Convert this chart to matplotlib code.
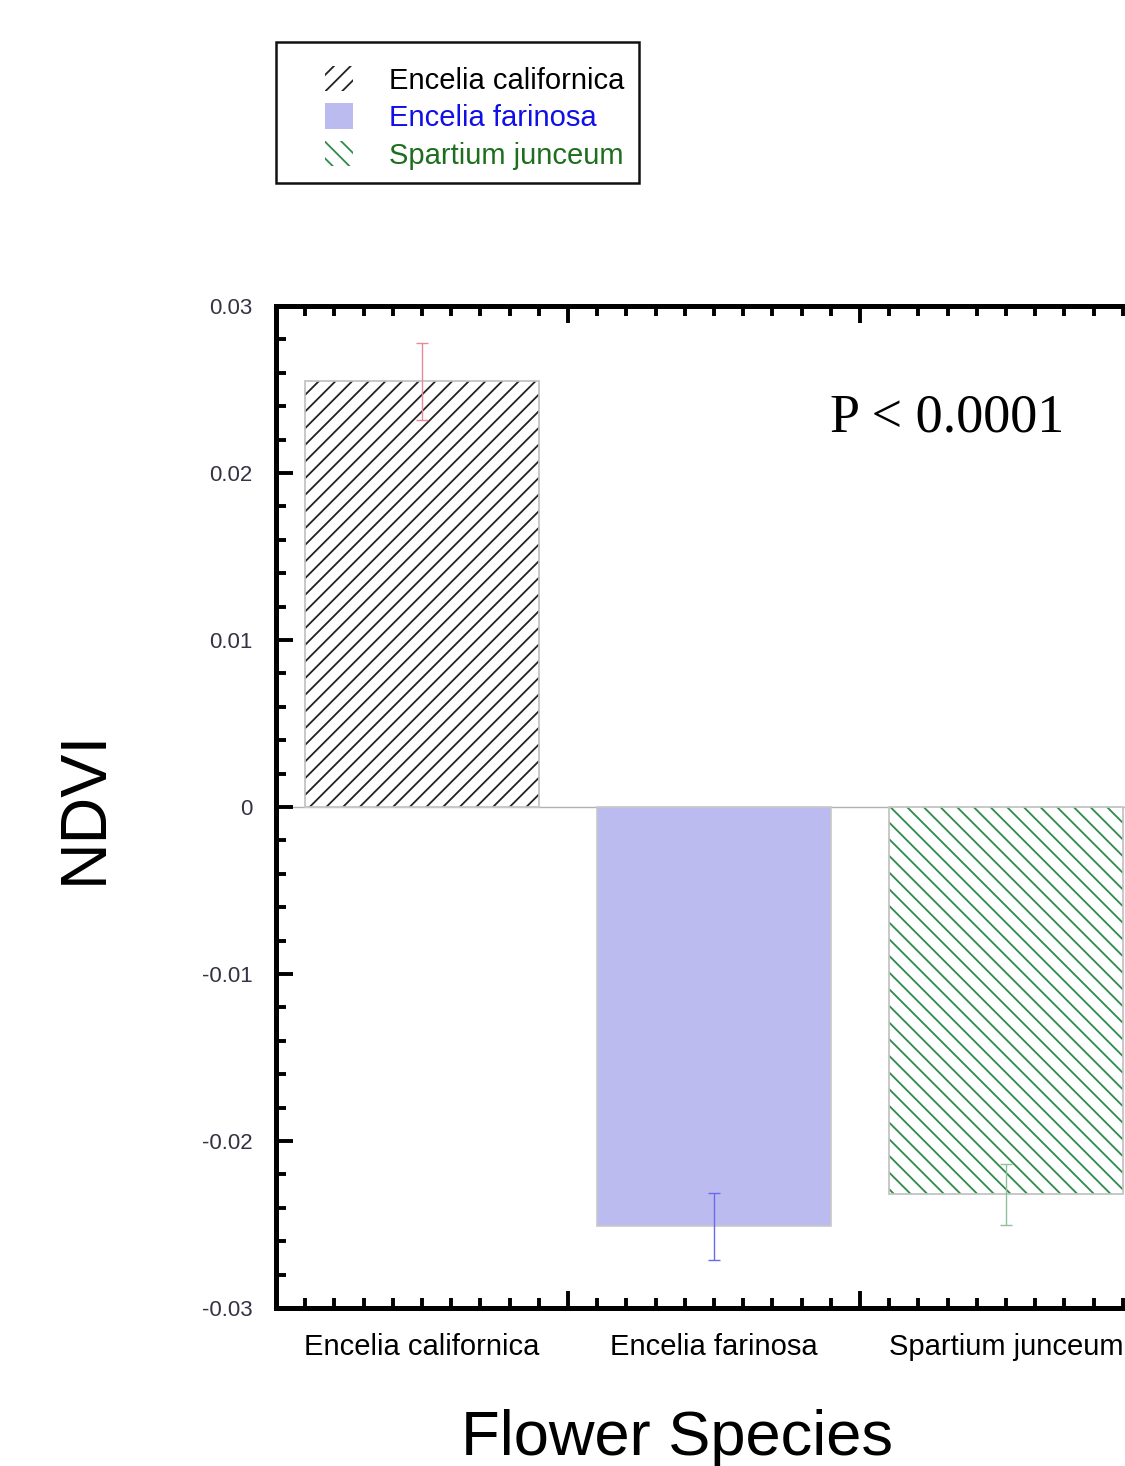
import numpy as np
import matplotlib
matplotlib.use("Agg")
import matplotlib.pyplot as plt
from matplotlib.patches import Patch, Rectangle
from matplotlib.ticker import MultipleLocator, FuncFormatter

# ---- data ----
species = ["Encelia californica", "Encelia farinosa", "Spartium junceum"]
ndvi_mean = [0.0255, -0.0251, -0.0232]
ndvi_err = [0.0023, 0.0020, 0.0018]
p_text = "P < 0.0001"

# ---- style ----
face_colors = ["white", "#BBBBF0", "white"]
hatch_colors = ["#222222", "#BBBBF0", "#2E8B4A"]
hatches = ["//", None, "\\\\"]
err_colors = ["#E88A95", "#6A6AEE", "#8FC09A"]
label_colors = ["#000000", "#1010E6", "#1E6E1E"]
edge_gray = "#C8C8C8"

plt.rcParams["font.family"] = ["Liberation Sans", "DejaVu Sans"]
plt.rcParams["hatch.linewidth"] = 1.3

W, H, DPI = 1125, 1466, 100
fig = plt.figure(figsize=(W / DPI, H / DPI), dpi=DPI)

def px_x(x):
    return x / W

def px_y(y):
    return 1 - y / H

ax_left, ax_right, ax_top, ax_bottom = 276, 1152, 306, 1308
ax = fig.add_axes([px_x(ax_left), px_y(ax_bottom), (ax_right - ax_left) / W, (ax_bottom - ax_top) / H])

x = np.arange(len(species)) + 0.5
for i in range(len(species)):
    ax.bar(x[i], ndvi_mean[i], width=0.8, color=face_colors[i], edgecolor=edge_gray,
           linewidth=1.2, zorder=2)
    if hatches[i]:
        ax.bar(x[i], ndvi_mean[i], width=0.8, color="none", edgecolor=hatch_colors[i],
               hatch=hatches[i], linewidth=0, zorder=2.1)
        ax.bar(x[i], ndvi_mean[i], width=0.8, color="none", edgecolor=edge_gray,
               linewidth=1.2, zorder=2.2)
    ax.errorbar(x[i], ndvi_mean[i], yerr=ndvi_err[i], fmt="none", ecolor=err_colors[i],
                elinewidth=1.0, capsize=4, capthick=1.0, zorder=3)

ax.axhline(0, color="#B0B0B0", linewidth=1.0, zorder=1.5)

ax.set_xlim(0, 3)
ax.set_ylim(-0.03, 0.03)

ax.xaxis.set_major_locator(MultipleLocator(1))
ax.xaxis.set_minor_locator(MultipleLocator(0.1))
ax.yaxis.set_major_locator(MultipleLocator(0.01))
ax.yaxis.set_minor_locator(MultipleLocator(0.002))
ax.xaxis.set_major_formatter(FuncFormatter(lambda v, p: ""))
ax.yaxis.set_major_formatter(FuncFormatter(lambda v, p: "0" if abs(v) < 1e-9 else f"{v:.2f}"))

ax.tick_params(which="both", direction="in", top=True, right=True, width=2.8, color="black")
ax.tick_params(which="major", length=12)
ax.tick_params(which="minor", length=7)
ax.tick_params(axis="y", labelsize=16, pad=17, labelcolor="#333344")

for s in ax.spines.values():
    s.set_linewidth(3.6)

for i, name in enumerate(species):
    ax.text(x[i], -0.025, name, transform=ax.get_xaxis_transform(), ha="center", va="top",
            fontsize=21, color="black")

fig.text(px_x(102), px_y(807), "NDVI", rotation=90, rotation_mode="anchor",
         ha="center", va="baseline", fontsize=46.5)
fig.text(px_x(677), px_y(1455), "Flower Species", ha="center", va="baseline", fontsize=45.5)
fig.text(px_x(830), px_y(432), p_text, ha="left", va="baseline", fontsize=39,
         family=["Liberation Serif", "DejaVu Serif"])

handles = []
for i in range(len(species)):
    if hatches[i]:
        handles.append(Patch(facecolor="white", edgecolor=hatch_colors[i], hatch=hatches[i],
                             linewidth=0))
    else:
        handles.append(Patch(facecolor=face_colors[i], edgecolor=face_colors[i], linewidth=0))

leg = fig.legend(handles, species, loc="upper left", bbox_to_anchor=(px_x(325), px_y(66)),
                 frameon=False, fontsize=21, handlelength=0.96, handleheight=0.96,
                 handletextpad=1.23, labelspacing=0.3, borderpad=0, borderaxespad=0)
for t, c in zip(leg.get_texts(), label_colors):
    t.set_color(c)

fig.patches.append(Rectangle((px_x(276), px_y(183)), 363 / W, 141 / H, transform=fig.transFigure,
                             fill=False, edgecolor="#111111", linewidth=1.8))

fig.savefig("out.png", dpi=DPI)
